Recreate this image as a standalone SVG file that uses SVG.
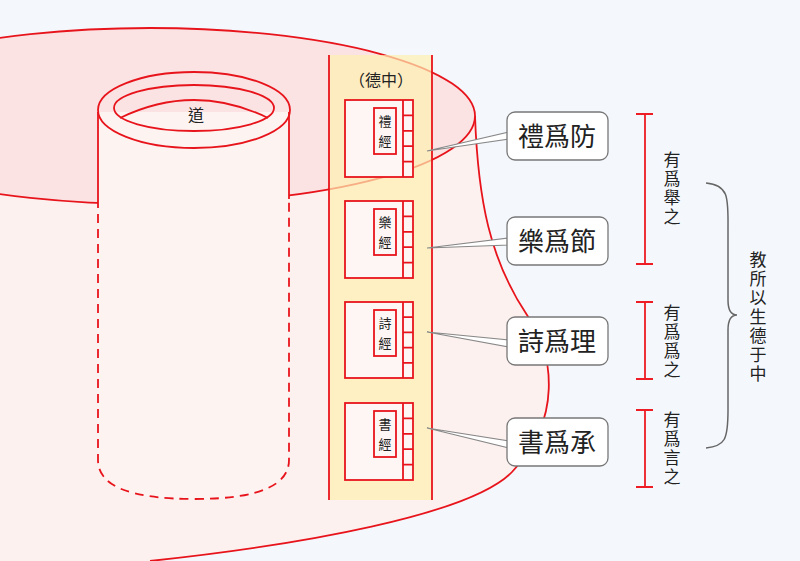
<svg xmlns="http://www.w3.org/2000/svg" width="800" height="561" viewBox="0 0 800 561">
<defs>
<style>
.r{fill:none;stroke:#e8141c;stroke-width:1.8}
.t{font-family:"Noto Sans CJK TC","Noto Sans CJK SC",sans-serif;fill:#222}
.v{writing-mode:vertical-rl;font-size:17px;letter-spacing:2px}
.bk{fill:#fdf6f4;stroke:#e8141c;stroke-width:1.8}
.cl{fill:#fff;stroke:#888;stroke-width:1.2}
.lb{fill:#fff;stroke:#777;stroke-width:1.3}
.bar{stroke:#ee1c24;stroke-width:1.8;fill:none}
</style>
</defs>
<rect width="800" height="561" fill="#f4f8fc"/>
<g id="outer">
<path d="M475,116 C478,200 490,260 527,315 C555,355 562,420 512,472 C470,515 300,545 150,561 L0,561 L0,116 Z" fill="#fdf1ef"/>
<path d="M475,116 C478,200 490,260 527,315 C555,355 562,420 512,472 C470,515 300,545 150,561" class="r"/>
<ellipse cx="150" cy="116" rx="325" ry="88" fill="#fbe3e3" stroke="#e8141c" stroke-width="1.8"/>
</g>
<g id="tao">
<path d="M98,112 L98,460 Q98,499 194,499 Q289,499 289,460 L289,112 Z" fill="#fdf4f2"/>
<ellipse cx="194" cy="110" rx="96" ry="38" fill="#fdf4f2" class="r"/>
<path d="M98,112 L98,199 M289,112 L289,199" class="r"/>
<path d="M98,199 L98,460 Q98,499 194,499 Q289,499 289,460 L289,199" class="r" stroke-dasharray="9,6"/>
<ellipse cx="194" cy="108" rx="80" ry="23" class="r"/>
<path d="M120,118 Q194,82 268,118" class="r"/>
<text x="196" y="121" class="t" font-size="16" text-anchor="middle">道</text>
</g>
<g id="column">
<rect x="329" y="55" width="103" height="445" fill="#fdf0b0" fill-opacity="0.7"/>
<path d="M329,55 L329,500 M432,55 L432,500" class="r"/>
<text x="381" y="86" class="t" font-size="16" text-anchor="middle">（德中）</text>
</g>
<g id="book1">
<rect x="345" y="100" width="68" height="77" class="bk"/>
<path d="M403,100 L403,177 M403,115.4 H413 M403,130.8 H413 M403,146.2 H413 M403,161.6 H413" class="r"/>
<rect x="374" y="108" width="22" height="46" class="bk"/>
<text x="385" y="126" class="t" font-size="13" text-anchor="middle">禮</text>
<text x="385" y="146" class="t" font-size="13" text-anchor="middle">經</text>
</g>
<g id="book2">
<rect x="345" y="201" width="68" height="77" class="bk"/>
<path d="M403,201 L403,278 M403,216.4 H413 M403,231.8 H413 M403,247.2 H413 M403,262.6 H413" class="r"/>
<rect x="374" y="209" width="22" height="46" class="bk"/>
<text x="385" y="227" class="t" font-size="13" text-anchor="middle">樂</text>
<text x="385" y="247" class="t" font-size="13" text-anchor="middle">經</text>
</g>
<g id="book3">
<rect x="345" y="302" width="68" height="76" class="bk"/>
<path d="M403,302 L403,378 M403,317.2 H413 M403,332.4 H413 M403,347.6 H413 M403,362.8 H413" class="r"/>
<rect x="374" y="310" width="22" height="46" class="bk"/>
<text x="385" y="328" class="t" font-size="13" text-anchor="middle">詩</text>
<text x="385" y="348" class="t" font-size="13" text-anchor="middle">經</text>
</g>
<g id="book4">
<rect x="345" y="403" width="68" height="77" class="bk"/>
<path d="M403,403 L403,480 M403,418.4 H413 M403,433.8 H413 M403,449.2 H413 M403,464.6 H413" class="r"/>
<rect x="374" y="411" width="22" height="46" class="bk"/>
<text x="385" y="429" class="t" font-size="13" text-anchor="middle">書</text>
<text x="385" y="449" class="t" font-size="13" text-anchor="middle">經</text>
</g>
<g id="connectors">
<polygon points="427,151 509,132 509,139" class="cl"/>
<polygon points="427,248 509,238 509,245" class="cl"/>
<polygon points="427,332 509,340 509,347" class="cl"/>
<polygon points="427,428 509,441 509,448" class="cl"/>
<path d="M706,183 C730,185 728,200 728,230 L728,300 C728,312 732,315 737,315 C732,315 728,318 728,330 L728,410 C728,440 725,446 706,448" fill="none" stroke="#666" stroke-width="1.5"/>
</g>
<g id="l1"><rect x="507" y="112" width="101" height="48" rx="8" class="lb"/><text x="557" y="146" class="t" font-size="26" text-anchor="middle">禮爲防</text></g>
<g id="l2"><rect x="507" y="217" width="101" height="48" rx="8" class="lb"/><text x="557" y="251" class="t" font-size="26" text-anchor="middle">樂爲節</text></g>
<g id="l3"><rect x="507" y="317" width="101" height="48" rx="8" class="lb"/><text x="557" y="351" class="t" font-size="26" text-anchor="middle">詩爲理</text></g>
<g id="l4"><rect x="507" y="418" width="101" height="48" rx="8" class="lb"/><text x="557" y="452" class="t" font-size="26" text-anchor="middle">書爲承</text></g>
<g id="bars">
<path d="M645,114 V264 M636,114 H653 M636,264 H653" class="bar"/>
<path d="M645,302 V379 M636,302 H653 M636,379 H653" class="bar"/>
<path d="M645,410 V487 M636,410 H653 M636,487 H653" class="bar"/>
</g>
<g id="side">
<text x="672" y="151" class="t v">有爲舉之</text>
<text x="672" y="304" class="t v">有爲爲之</text>
<text x="672" y="411" class="t v">有爲言之</text>
<text x="758" y="251" class="t v">教所以生德于中</text>
</g>
</svg>
